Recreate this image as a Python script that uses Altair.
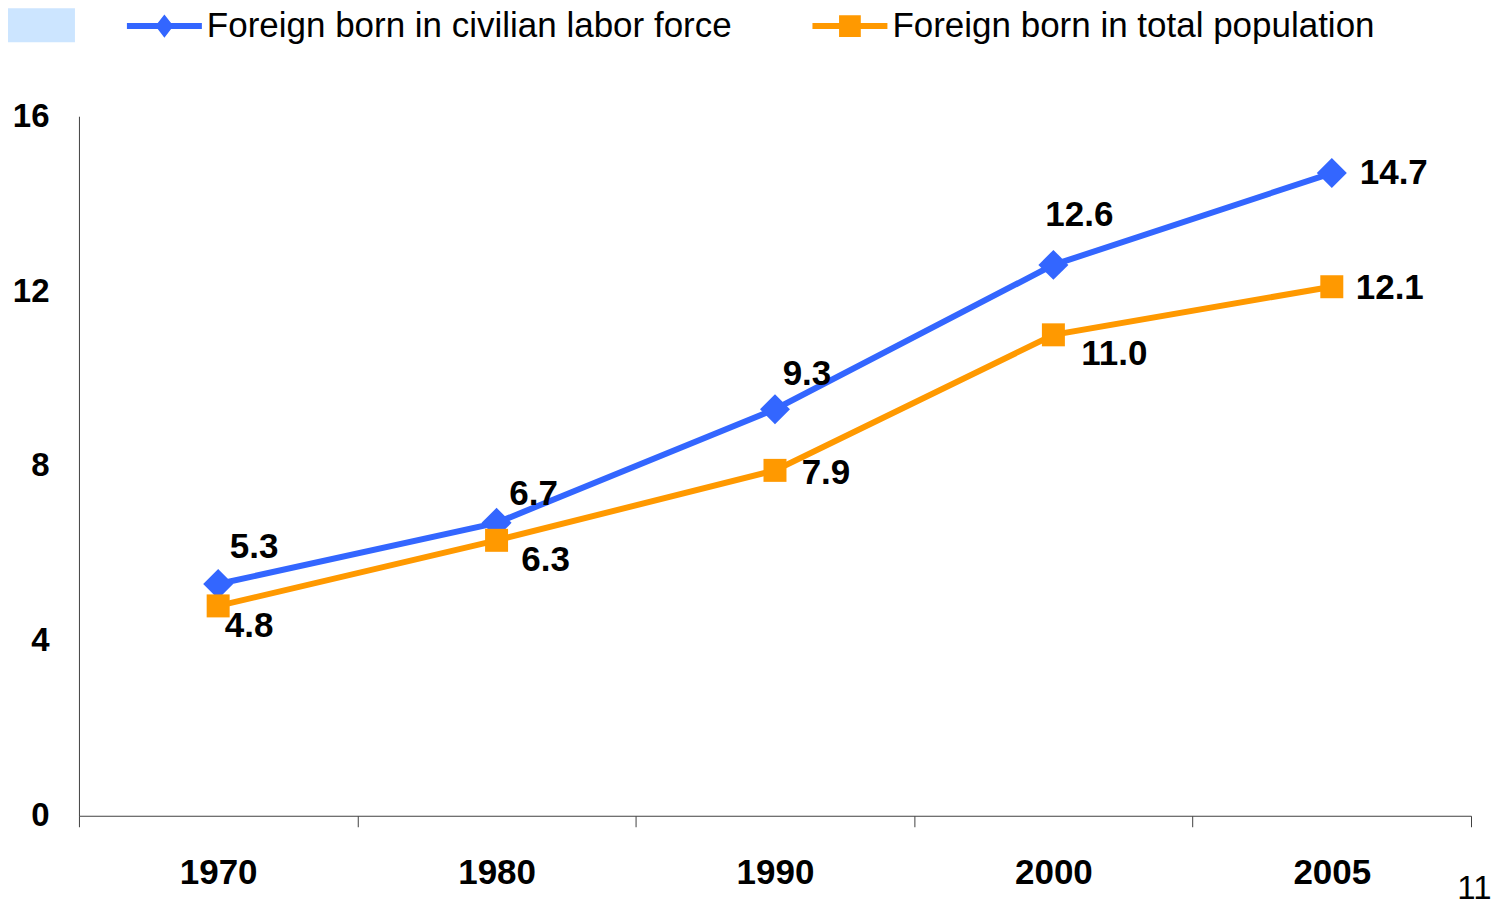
import altair as alt
import pandas as pd

# ---- data ----
years = ["1970", "1980", "1990", "2000", "2005"]
labor_force = [5.3, 6.7, 9.3, 12.6, 14.7]
total_population = [4.8, 6.3, 7.9, 11.0, 12.1]
series_names = ["Foreign born in civilian labor force", "Foreign born in total population"]
y_ticks = [0, 4, 8, 12, 16]
page_number = "11"

# ---- styles ----
BLUE = "#3366ff"
ORANGE = "#ff9900"
AXIS_COLOR = "#404040"
FONT = "Liberation Sans"

# label offsets (dx, dy) per series/year
label_offsets = {
    (0, "1970"): (36, -37), (0, "1980"): (37, -29), (0, "1990"): (32, -35),
    (0, "2000"): (26, -50), (0, "2005"): (62, 0),
    (1, "1970"): (31, 20), (1, "1980"): (49, 20), (1, "1990"): (51, 3),
    (1, "2000"): (61, 19), (1, "2005"): (58, 1),
}

df = pd.DataFrame({
    "year": years * 2,
    "value": labor_force + total_population,
    "series": [series_names[0]] * len(years) + [series_names[1]] * len(years),
})

x_enc = alt.X(
    "year:N",
    sort=years,
    scale=alt.Scale(type="band", domain=years, paddingInner=0, paddingOuter=0),
    axis=alt.Axis(
        title=page_number, titleX=1413, titleY=83, titleAlign="right",
        titleBaseline="alphabetic", titleFontSize=33, titleFontWeight="normal",
        titleColor="black", titleFont=FONT,
        labelAngle=0, labelFontSize=35, labelFontWeight="bold", labelColor="black",
        labelFont=FONT, labelPadding=29, tickBand="extent", tickSize=11,
        tickColor=AXIS_COLOR, domainColor=AXIS_COLOR, grid=False,
    ),
)
y_enc = alt.Y(
    "value:Q",
    scale=alt.Scale(domain=[0, 16], nice=False),
    axis=alt.Axis(
        values=y_ticks, title=None, ticks=False, tickSize=0, labelFontSize=33,
        labelFontWeight="bold", labelColor="black", labelFont=FONT, labelPadding=30,
        domainColor=AXIS_COLOR, grid=False,
    ),
)

base = alt.Chart(df).encode(x=x_enc, y=y_enc)

layers = []

# decorative light-blue box (top-left)
layers.append(
    alt.Chart(pd.DataFrame({"k": [0]})).mark_rect(color="#cce5ff").encode(
        x=alt.value(-71), x2=alt.value(-4), y=alt.value(-108), y2=alt.value(-74)
    )
)

shapes = ["diamond", "square"]
sizes = [900, 529]
colors = [BLUE, ORANGE]
for i, name in enumerate(series_names):
    sub = base.transform_filter(alt.datum.series == name)
    layers.append(sub.mark_line(color=colors[i], strokeWidth=6))
    layers.append(sub.mark_point(shape=shapes[i], filled=True, size=sizes[i],
                                 color=colors[i], opacity=1))

for (i, yr), (dx, dy) in label_offsets.items():
    layers.append(
        base.transform_filter((alt.datum.series == series_names[i]) & (alt.datum.year == yr))
        .mark_text(dx=dx, dy=dy, fontSize=35, fontWeight="bold", color="black",
                   font=FONT, align="center", baseline="middle")
        .encode(text=alt.Text("value:Q", format=".1f"))
    )

# legend (line + marker symbols)
path_diamond = ("M-1,-0.08L-0.178,-0.08L0,-0.31L0.178,-0.08L1,-0.08L1,0.08L0.178,0.08"
                "L0,0.31L-0.178,0.08L-1,0.08Z")
path_square = ("M-1,-0.08L-0.29,-0.08L-0.29,-0.29L0.29,-0.29L0.29,-0.08L1,-0.08L1,0.08"
               "L0.29,0.08L0.29,0.29L-0.29,0.29L-0.29,0.08L-1,0.08Z")
leg = alt.Legend(
    title=None, orient="none", legendX=48, legendY=-128, direction="horizontal",
    symbolSize=5625, symbolStrokeWidth=0, symbolOpacity=1, labelFontSize=35,
    labelFont=FONT, labelColor="black", labelLimit=1000, labelOffset=5,
    columnPadding=80, padding=0,
)
layers.append(
    base.transform_filter("false").mark_point(filled=True, opacity=1).encode(
        color=alt.Color("series:N", scale=alt.Scale(domain=series_names, range=colors), legend=leg),
        shape=alt.Shape("series:N", scale=alt.Scale(domain=series_names,
                                                    range=[path_diamond, path_square]), legend=leg),
    )
)

chart = (
    alt.layer(*layers)
    .properties(
        width=1393, height=700,
        autosize=alt.AutoSizeParams(type="none"),
        padding={"left": 71, "top": 108, "right": 20, "bottom": 86},
    )
    .configure(font=FONT)
    .configure_view(strokeWidth=0, stroke="transparent")
)

chart.save("out.html", embed_options={"renderer": "svg", "actions": False})
